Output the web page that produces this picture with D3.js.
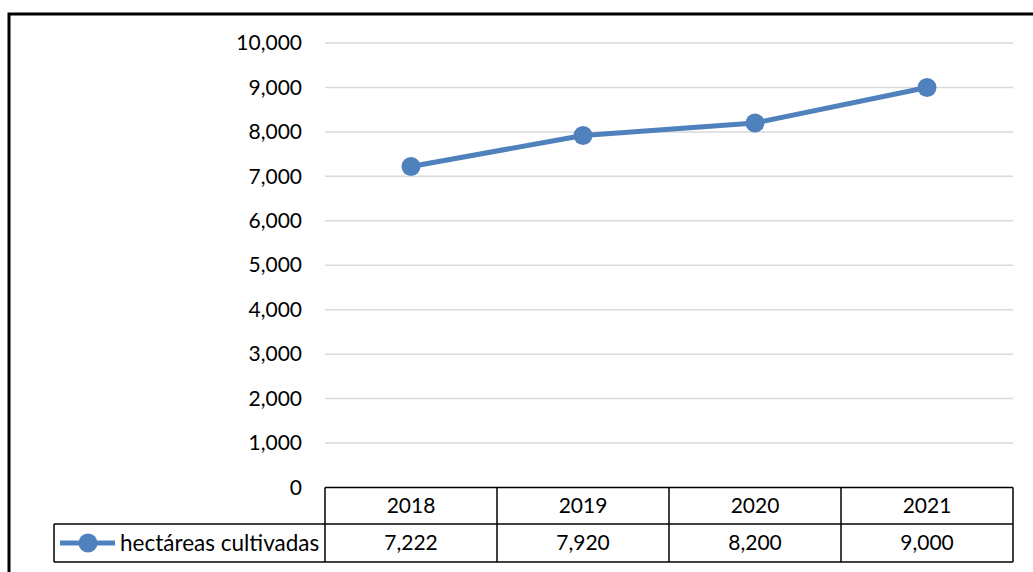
<!DOCTYPE html>
<html><head><meta charset="utf-8">
<script src="https://cdn.jsdelivr.net/npm/d3@7"></script>
<style>body{margin:0;background:#fff}svg{display:block}</style>
</head><body>
<script>
const years = ["2018","2019","2020","2021"];
const values = [7222, 7920, 8200, 9000];
const seriesName = "hectáreas cultivadas";
const yTicks = [0,1000,2000,3000,4000,5000,6000,7000,8000,9000,10000];

const W = 1033, H = 572;
const FONT = "Lato, 'Open Sans', sans-serif";
const FS = 21;
const BLUE = "#4F81BD";
const svg = d3.select("body").append("svg").attr("width", W).attr("height", H);

// outer frame (right/bottom edges fall outside the view)
svg.append("rect").attr("x", 9).attr("y", 14).attr("width", 1040).attr("height", 600)
  .attr("fill", "none").attr("stroke", "#000").attr("stroke-width", 3);

const plotL = 325, plotR = 1013, plotT = 43, plotB = 487.5;
const x = d3.scaleBand().domain(years).range([plotL, plotR]).padding(0);
const y = d3.scaleLinear().domain([0, 10000]).range([plotB, plotT]);

// gridlines
svg.append("g").selectAll("line").data(yTicks.filter(t => t > 0)).join("line")
  .attr("x1", plotL).attr("x2", plotR)
  .attr("y1", d => y(d)).attr("y2", d => y(d))
  .attr("stroke", "#d9d9d9").attr("stroke-width", 1.5);

// y axis labels
const yAxis = d3.axisLeft(y).tickValues(yTicks).tickFormat(d3.format(",")).tickSize(0).tickPadding(0);
const ya = svg.append("g").attr("transform", `translate(302,0)`).call(yAxis);
ya.select(".domain").remove();
ya.selectAll("text").attr("font-family", FONT).attr("font-size", FS).attr("fill", "#000");

// line
const cx = d => x(d) + x.bandwidth() / 2;
svg.append("path").datum(values)
  .attr("d", d3.line().x((d, i) => cx(years[i])).y(d => y(d)))
  .attr("fill", "none").attr("stroke", BLUE).attr("stroke-width", 5).attr("stroke-linejoin", "round");
svg.append("g").selectAll("circle").data(values).join("circle")
  .attr("cx", (d, i) => cx(years[i])).attr("cy", d => y(d)).attr("r", 9.5).attr("fill", BLUE);

// data table
const rowTop = 487.5, rowMid = 524, rowBot = 562, legL = 54;
const tb = svg.append("g").attr("stroke", "#000").attr("stroke-width", 1.5).attr("fill", "none");
tb.append("line").attr("x1", plotL).attr("x2", plotR).attr("y1", rowTop).attr("y2", rowTop);
tb.append("line").attr("x1", legL).attr("x2", plotR).attr("y1", rowMid).attr("y2", rowMid);
tb.append("line").attr("x1", legL).attr("x2", plotR).attr("y1", rowBot).attr("y2", rowBot);
tb.append("line").attr("x1", legL).attr("x2", legL).attr("y1", rowMid).attr("y2", rowBot);
tb.selectAll("line.v").data(years.concat(["end"])).join("line").attr("class", "v")
  .attr("x1", (d, i) => i < years.length ? x(d) : plotR)
  .attr("x2", (d, i) => i < years.length ? x(d) : plotR)
  .attr("y1", rowTop).attr("y2", rowBot);

svg.append("g").selectAll("text").data(years).join("text")
  .attr("x", d => cx(d)).attr("y", (rowTop + rowMid) / 2).attr("dy", "0.35em")
  .attr("text-anchor", "middle").attr("font-family", FONT).attr("font-size", FS).text(d => d);
svg.append("g").selectAll("text").data(values).join("text")
  .attr("x", (d, i) => cx(years[i])).attr("y", (rowMid + rowBot) / 2).attr("dy", "0.35em")
  .attr("text-anchor", "middle").attr("font-family", FONT).attr("font-size", FS).text(d => d3.format(",")(d));

// legend key
const ly = (rowMid + rowBot) / 2;
svg.append("line").attr("x1", 60).attr("x2", 115).attr("y1", ly).attr("y2", ly)
  .attr("stroke", BLUE).attr("stroke-width", 5);
svg.append("circle").attr("cx", 88).attr("cy", ly).attr("r", 9.5).attr("fill", BLUE);
svg.append("text").attr("x", 120).attr("y", ly).attr("dy", "0.35em")
  .attr("font-family", FONT).attr("font-size", 22.5).text(seriesName);
</script>
</body></html>
